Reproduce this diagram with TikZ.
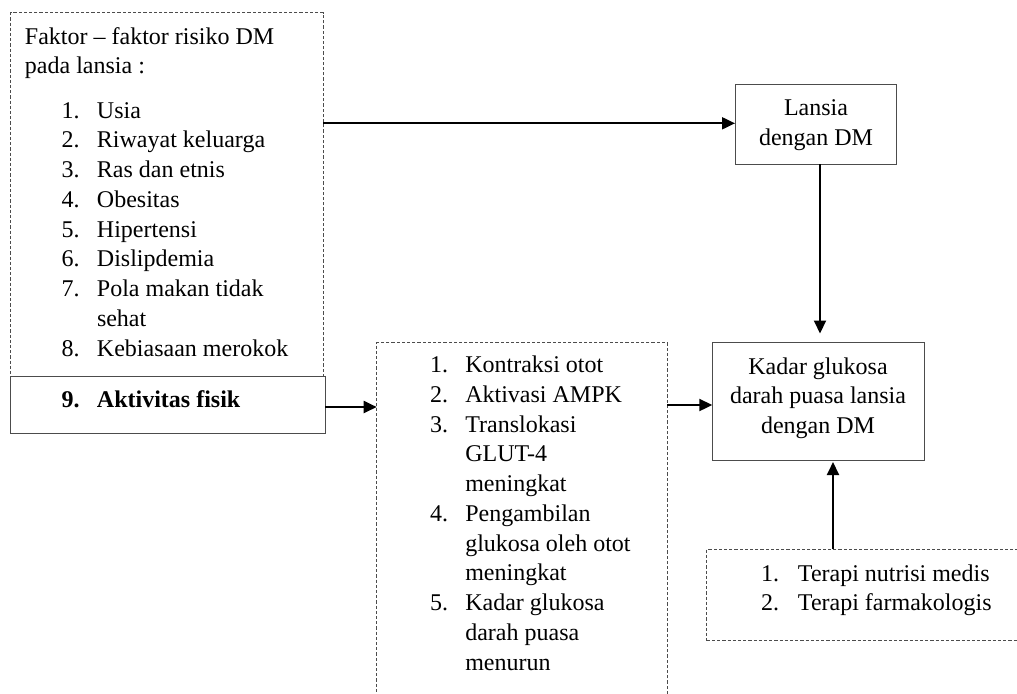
\documentclass[tikz,border=0pt]{standalone}
\usepackage{fontspec}
\setmainfont{Liberation Serif}
\usetikzlibrary{arrows.meta}
\begin{document}
\begin{tikzpicture}[x=0.5pt,y=-0.5pt,
  font=\fontsize{12}{14.875}\selectfont,
  boxline/.style={draw=black!70, line width=0.5pt, inner sep=0pt, outer sep=0pt},
  dbox/.style={boxline, dash pattern=on 1.6pt off 1pt},
  sbox/.style={boxline},
  txt/.style={inner sep=0pt, outer sep=0pt, anchor=base west},
  ctxt/.style={inner sep=0pt, outer sep=0pt, anchor=base},
  arr/.style={-{Triangle[length=6.5pt,width=6pt]}, line width=1pt, black}]
\useasboundingbox (0,0) rectangle (1017,693);
% boxes
\node[dbox, minimum width=156.15pt, minimum height=182pt] (lbox) at (166.85,194.7) {};
\node[sbox, minimum width=157.5pt, minimum height=28.15pt] (fbox) at (167.5,404.85) {};
\node[dbox, minimum width=145.3pt, minimum height=181.15pt] (mbox) at (522,523.85) {};
\node[sbox, minimum width=80.85pt, minimum height=39.85pt] (lansia) at (815.85,124.15) {};
\node[sbox, minimum width=105.85pt, minimum height=58.65pt] (kadar) at (818.15,401.35) {};
\node[dbox, minimum width=161.65pt, minimum height=45.7pt] (bbox) at (868.35,595) {};
% texts
\node[txt] (lhead) at (25,44) {\begin{tabular}[t]{@{}l@{}}Faktor -- faktor risiko DM\\ pada lansia :\end{tabular}};
\node[txt] (llist) at (61.7,118) {\begin{tabular}[t]{@{}p{17.65pt}@{}l@{}}
1. & Usia\\
2. & Riwayat keluarga\\
3. & Ras dan etnis\\
4. & Obesitas\\
5. & Hipertensi\\
6. & Dislipdemia\\
7. & Pola makan tidak\\
   & sehat\\
8. & Kebiasaan merokok
\end{tabular}};
\node[txt] (ftxt) at (61.7,407.5) {\bfseries\begin{tabular}[t]{@{}p{17.65pt}@{}l@{}}9. & Aktivitas fisik\end{tabular}};
\node[txt] (mlist) at (430,372.5) {\begin{tabular}[t]{@{}p{17.65pt}@{}l@{}}
1. & Kontraksi otot\\
2. & Aktivasi AMPK\\
3. & Translokasi\\
   & GLUT-4\\
   & meningkat\\
4. & Pengambilan\\
   & glukosa oleh otot\\
   & meningkat\\
5. & Kadar glukosa\\
   & darah puasa\\
   & menurun
\end{tabular}};
\node[ctxt] (ltxt) at (816,115.5) {\begin{tabular}[t]{@{}c@{}}Lansia\\ dengan DM\end{tabular}};
\node[ctxt] (ktxt) at (818,374) {\begin{tabular}[t]{@{}c@{}}Kadar glukosa\\ darah puasa lansia\\ dengan DM\end{tabular}};
\node[txt] (blist) at (761,581) {\begin{tabular}[t]{@{}p{18.5pt}@{}l@{}}
1. & Terapi nutrisi medis\\
2. & Terapi farmakologis
\end{tabular}};
% connectors
\coordinate (a1) at (lbox.east |- 0,123.3);
\coordinate (a1e) at (lansia.west |- 0,123.3);
\draw[arr] (a1) -- (a1e);
\coordinate (a2) at (fbox.east |- 0,407);
\coordinate (a2e) at (mbox.west |- 0,407);
\draw[arr] (a2) -- (a2e);
\coordinate (a3) at (mbox.east |- 0,405);
\coordinate (a3e) at (kadar.west |- 0,405);
\draw[arr] (a3) -- (a3e);
\coordinate (a4) at (lansia.south -| 820,0);
\coordinate (a4e) at (kadar.north -| 820,0);
\draw[arr, shorten >=4.6pt] (a4) -- (a4e);
\coordinate (a5) at (bbox.north -| 833,0);
\coordinate (a5e) at (kadar.south -| 833,0);
\draw[arr, shorten >=1pt] (a5) -- (a5e);
\end{tikzpicture}
\end{document}
